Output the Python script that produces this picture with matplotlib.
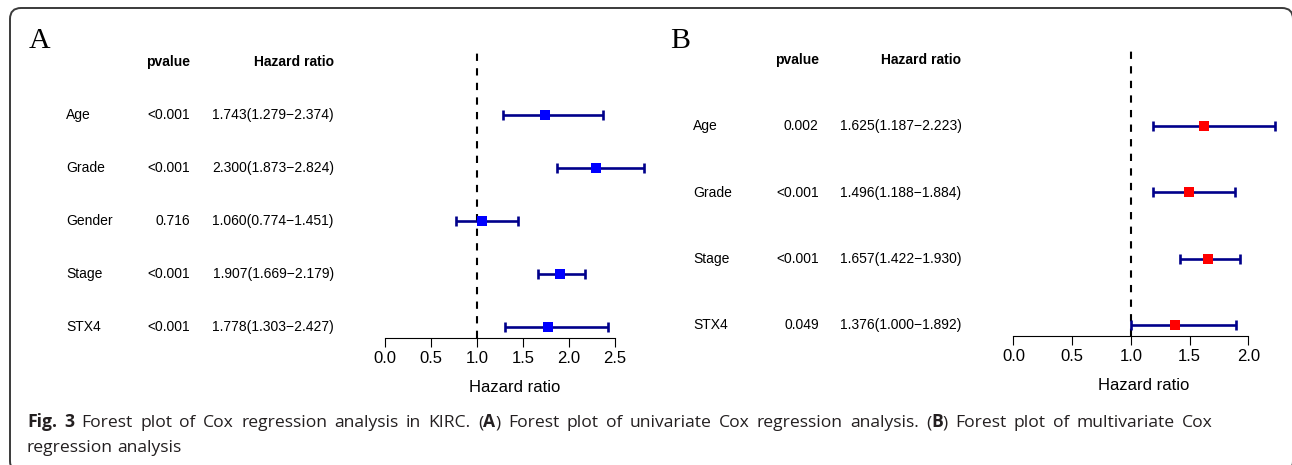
import matplotlib
matplotlib.use("Agg")
import matplotlib.pyplot as plt
from matplotlib.patches import FancyBboxPatch
from matplotlib.transforms import blended_transform_factory, IdentityTransform
import numpy as np

# ---------------- data ----------------
uni_vars = ["Age", "Grade", "Gender", "Stage", "STX4"]
uni_p = ["<0.001", "<0.001", "0.716", "<0.001", "<0.001"]
uni_hr = [1.743, 2.300, 1.060, 1.907, 1.778]
uni_low = [1.279, 1.873, 0.774, 1.669, 1.303]
uni_high = [2.374, 2.824, 1.451, 2.179, 2.427]
uni_ticks = [0.0, 0.5, 1.0, 1.5, 2.0, 2.5]

multi_vars = ["Age", "Grade", "Stage", "STX4"]
multi_p = ["0.002", "<0.001", "<0.001", "0.049"]
multi_hr = [1.625, 1.496, 1.657, 1.376]
multi_low = [1.187, 1.188, 1.422, 1.000]
multi_high = [2.223, 1.884, 1.930, 1.892]
multi_ticks = [0.0, 0.5, 1.0, 1.5, 2.0]

caption_line1 = [("Fig. 3", True),
                 (" Forest plot of Cox regression analysis in KIRC. (", False),
                 ("A", True),
                 (") Forest plot of univariate Cox regression analysis. (", False),
                 ("B", True),
                 (") Forest plot of multivariate Cox", False)]
caption_line2 = [("regression analysis", False)]

# ---------------- layout ----------------
W, H, DPI = 1292, 465, 100
fig = plt.figure(figsize=(W / DPI, H / DPI), dpi=DPI)
fig.patch.set_facecolor("white")

SANS = "Liberation Sans"


def fx(px):
    return px / W


def fy(py):
    return 1 - py / H


def forest(letter, letter_x, names, pvals, hr, low, high, ticks, color,
           x0_px, ppx, header_px, last_row_px, name_x, p_x, hr_x):
    n = len(names)
    hr = np.asarray(hr)
    low = np.asarray(low)
    high = np.asarray(high)
    ppu = (last_row_px - header_px) / n
    pad = 0.04 * n
    top_px = header_px - pad * ppu
    bot_px = last_row_px + pad * ppu
    xmax = float(high.max())
    ax = fig.add_axes([fx(x0_px), fy(bot_px), xmax * ppx / W,
                       (bot_px - top_px) / H])
    ax.set_xlim(0, xmax)
    ax.set_ylim(1 - pad, n + 1 + pad)
    y = np.arange(n, 0, -1)

    ax.axvline(1.0, color="black", lw=1.5, ls=(0, (3.5, 3.5)), zorder=1)
    ax.errorbar(hr, y, xerr=[hr - low, high - hr], fmt="none",
                ecolor="#00008B", elinewidth=1.9, capsize=3.9, capthick=1.9,
                zorder=2, clip_on=False)
    ax.plot(hr, y, "s", color=color, ms=7.4, mew=0, zorder=3, clip_on=False)

    for s in ("left", "right", "top"):
        ax.spines[s].set_visible(False)
    ax.spines["bottom"].set_bounds(ticks[0], ticks[-1])
    ax.spines["bottom"].set_linewidth(0.8)
    ax.set_yticks([])
    ax.set_xticks(ticks)
    ax.set_xticklabels([f"{t:.1f}" for t in ticks])
    ax.tick_params(axis="x", direction="out", length=6.5, width=0.8,
                   labelsize=12, pad=3)
    for lab in ax.get_xticklabels():
        lab.set_fontfamily(SANS)
    ax.set_xlabel("Hazard ratio", fontsize=12, family=SANS, labelpad=10.5)

    tr = blended_transform_factory(fig.transFigure, ax.transData)
    ts = 10
    for yi, nm, pv, h, lo, hi in zip(y, names, pvals, hr, low, high):
        ax.text(fx(name_x), yi, nm, transform=tr, ha="left", va="center",
                fontsize=ts, family=SANS)
        ax.text(fx(p_x), yi, pv, transform=tr, ha="right", va="center",
                fontsize=ts, family=SANS)
        ax.text(fx(hr_x), yi, f"{h:.3f}({lo:.3f}\u2212{hi:.3f})", transform=tr,
                ha="right", va="center", fontsize=ts, family=SANS)
    ax.text(fx(p_x), n + 1, "pvalue", transform=tr, ha="right", va="center",
            fontsize=ts, family=SANS, fontweight="bold")
    ax.text(fx(hr_x), n + 1, "Hazard ratio", transform=tr, ha="right",
            va="center", fontsize=ts, family=SANS, fontweight="bold")

    fig.text(fx(letter_x), fy(48), letter, ha="left", va="baseline",
             fontsize=21.5, family="Liberation Serif")
    return ax


forest("A", 29, uni_vars, uni_p, uni_hr, uni_low, uni_high, uni_ticks,
       "#0000FF", x0_px=385.1, ppx=91.8, header_px=62, last_row_px=327,
       name_x=66, p_x=190.5, hr_x=333.8)
forest("B", 670, multi_vars, multi_p, multi_hr, multi_low, multi_high,
       multi_ticks, "#FF0000", x0_px=1013.4, ppx=117.5, header_px=60,
       last_row_px=325, name_x=693, p_x=818.8, hr_x=961.4)

# border (rounded frame in display pixels; right and bottom sides fall outside)
bx0, by0, bx1, by1 = 10, 8, 1293, 472
box = FancyBboxPatch((bx0, H - by1), bx1 - bx0, by1 - by0,
                     boxstyle="round,pad=0,rounding_size=11",
                     transform=IdentityTransform(), fill=False,
                     edgecolor="#3a3a3a", lw=1.4)
fig.patches.append(box)

# caption
fig.canvas.draw()
renderer = fig.canvas.get_renderer()
CAP = "Open Sans"
CS = 12.6
CCOL = "#231f20"


def seg_width(s, bold):
    kw = dict(fontsize=CS, family=CAP, fontweight="bold" if bold else "normal")
    t1 = fig.text(0, 0, "|" + s + "|", **kw)
    t2 = fig.text(0, 0, "||", **kw)
    w = t1.get_window_extent(renderer).width - t2.get_window_extent(renderer).width
    t1.remove()
    t2.remove()
    return w


def split_words(segs):
    words = [[]]
    for s, bold in segs:
        parts = s.split(" ")
        for i, p in enumerate(parts):
            if i > 0:
                words.append([])
            if p:
                words[-1].append((p, bold))
    return [w for w in words if w]


def draw_line(segs, x_px, y_px, right_px=None):
    words = split_words(segs)
    widths = [sum(seg_width(p, b) for p, b in w) for w in words]
    if right_px is not None and len(words) > 1:
        gap = (right_px - x_px - sum(widths)) / (len(words) - 1)
    else:
        gap = seg_width(" ", False)
    x = x_px
    for w, ww in zip(words, widths):
        xx = x
        for p, b in w:
            fig.text(fx(xx), fy(y_px), p, fontsize=CS, family=CAP,
                     fontweight="bold" if b else "normal",
                     ha="left", va="baseline", color=CCOL)
            xx += seg_width(p, b)
        x += ww + gap


draw_line(caption_line1, 27, 427, right_px=1213)
draw_line(caption_line2, 27, 452)

fig.savefig("out.png", dpi=DPI, facecolor="white")
